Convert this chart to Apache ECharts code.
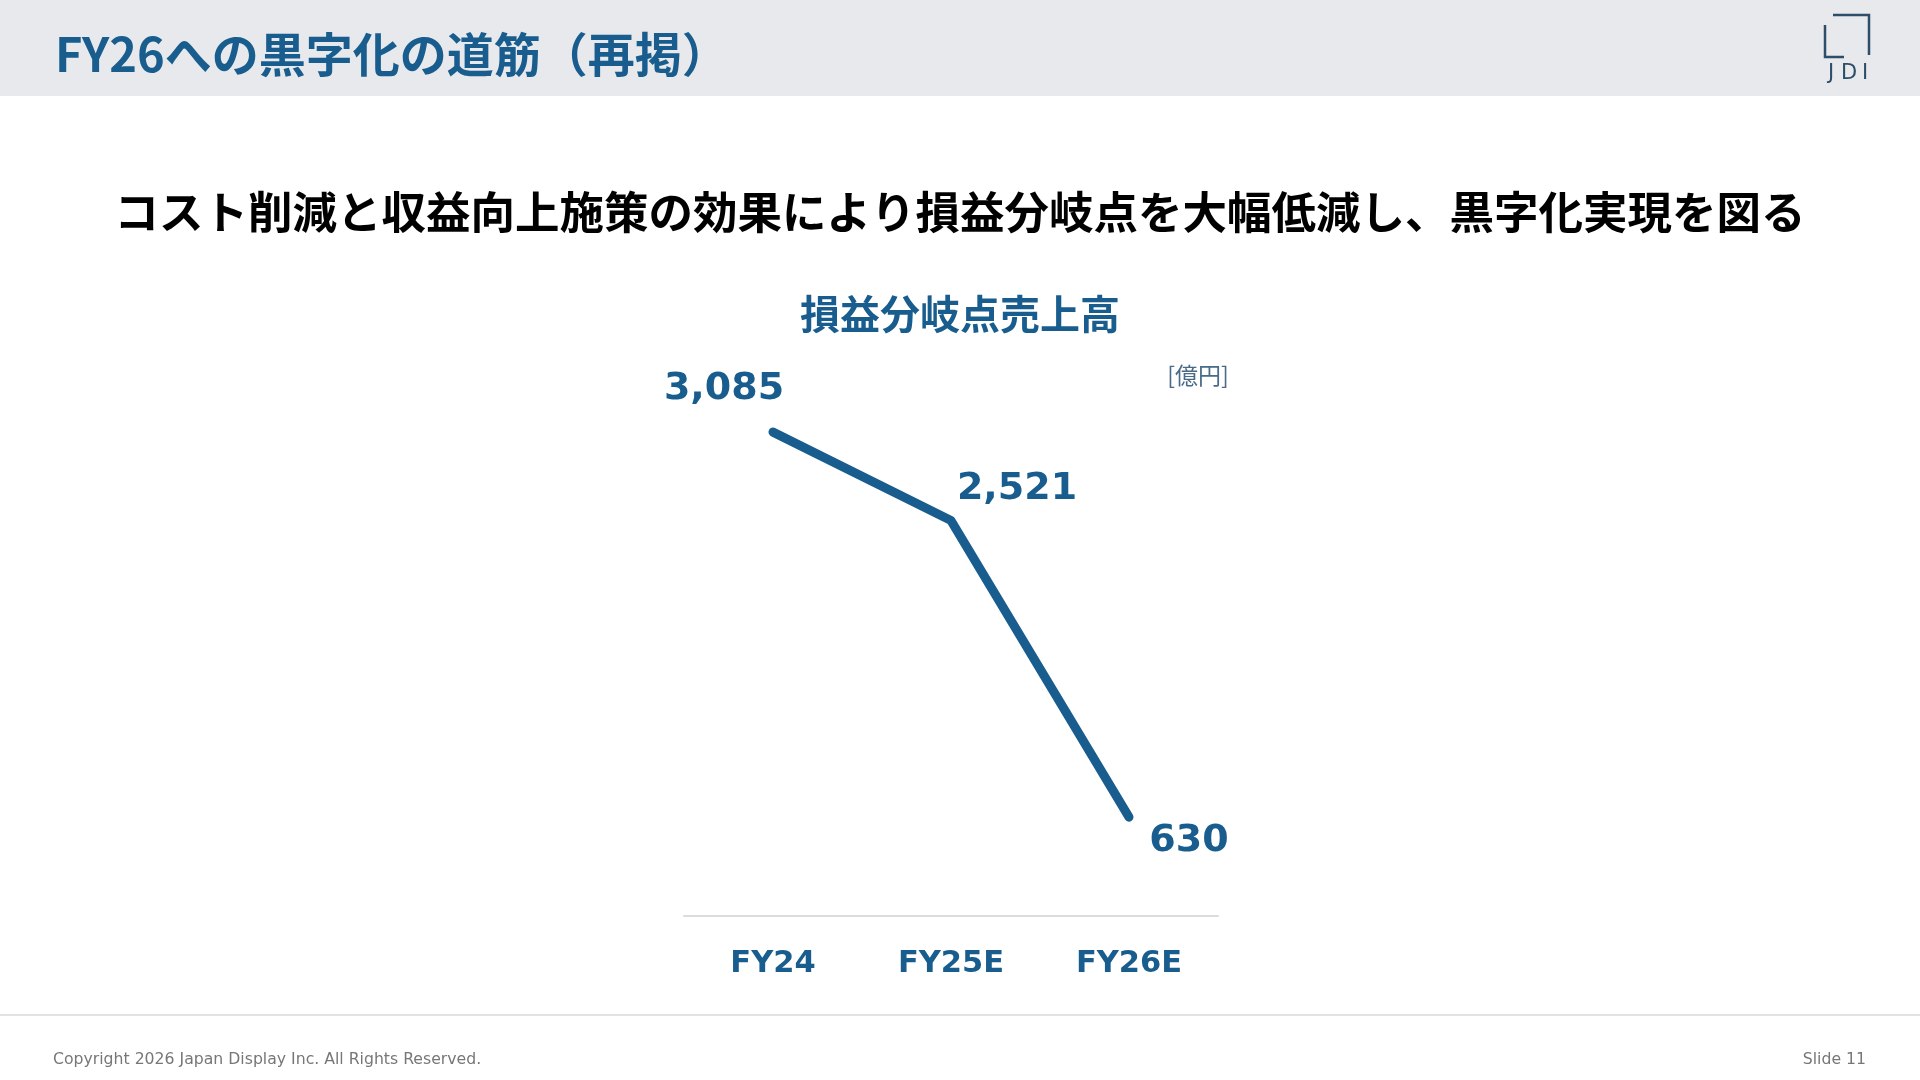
<!DOCTYPE html>
<html lang="ja">
<head>
<meta charset="UTF-8" />
<title>損益分岐点売上高</title>
<script src="https://cdn.jsdelivr.net/npm/echarts@6/dist/echarts.min.js"></script>
<style>
  html, body { margin: 0; padding: 0; background: #fff; }
</style>
</head>
<body>
<div id="main" style="width: 1920px; height: 1080px"></div>
<script type="text/javascript">
// data
const categories = ["FY24", "FY25E", "FY26E"];
const breakEvenSales = [3085, 2521, 630];   // 億円
const pageTitle = "FY26への黒字化の道筋（再掲）";
const message = "コスト削減と収益向上施策の効果により損益分岐点を大幅低減し、黒字化実現を図る";
const chartTitle = "損益分岐点売上高";
const unitLabel = "[億円]";

const blue = "#185d8e";
const logoColor = "#2e4d69";
const jp = '"Noto Sans CJK JP", sans-serif';
const num = '"DejaVu Sans", Verdana, sans-serif';

// where each value label sits relative to its point
const labelOffsets = [[-49, -43], [66, -31], [60, 24]];

let myChart = echarts.init(document.getElementById("main"));

let options = {
    backgroundColor: "#fff",
    animation: false,
    title: [
        {
            text: message,
            left: "center",
            top: 185,
            textStyle: { fontFamily: jp, fontSize: 44.5, fontWeight: "bold", color: "#000" }
        },
        {
            text: chartTitle,
            left: "center",
            top: 289,
            textStyle: { fontFamily: jp, fontSize: 40, fontWeight: "bold", color: blue }
        }
    ],
    grid: { left: 684, right: 702, top: 367, bottom: 164 },
    xAxis: {
        type: "category",
        data: categories,
        boundaryGap: true,
        axisLine: { lineStyle: { color: "#dcdcdc", width: 2 } },
        axisTick: { show: false },
        axisLabel: {
            margin: 33,
            fontFamily: num,
            fontSize: 30.5,
            fontWeight: "bold",
            color: blue
        }
    },
    yAxis: { type: "value", min: 0, max: 3500, show: false },
    series: [
        {
            type: "line",
            data: breakEvenSales.map((v, i) => ({
                value: v,
                label: { offset: labelOffsets[i] }
            })),
            symbol: "circle",
            symbolSize: 1,
            itemStyle: { color: blue },
            lineStyle: { color: blue, width: 9, cap: "round", join: "round" },
            label: {
                show: true,
                position: "inside",
                fontFamily: num,
                fontSize: 38,
                fontWeight: "bold",
                color: blue,
                formatter: (p) => p.value.toLocaleString("en-US")
            }
        }
    ],
    graphic: [
        // header band
        { type: "rect", shape: { x: 0, y: 0, width: 1920, height: 96 }, style: { fill: "#e7e9ec" }, z: 0 },
        {
            type: "text", left: 55, top: 31,
            style: { text: pageTitle, fontFamily: jp, fontSize: 47, fontWeight: "bold", fill: blue }
        },
        // JDI logo
        {
            type: "polyline", shape: { points: [[1825, 25], [1825, 57], [1844, 57]] },
            style: { stroke: logoColor, lineWidth: 2.5, fill: null }
        },
        {
            type: "polyline", shape: { points: [[1833, 15], [1869, 15], [1869, 55]] },
            style: { stroke: logoColor, lineWidth: 2.5, fill: null }
        },
        {
            type: "text", x: 1831, y: 74,
            style: { text: "J", fontFamily: num, fontSize: 21, fill: logoColor, align: "center", verticalAlign: "middle" }
        },
        {
            type: "text", x: 1849, y: 74,
            style: { text: "D", fontFamily: num, fontSize: 21, fill: logoColor, align: "center", verticalAlign: "middle" }
        },
        {
            type: "text", x: 1865, y: 74,
            style: { text: "I", fontFamily: num, fontSize: 21, fill: logoColor, align: "center", verticalAlign: "middle" }
        },
        // unit
        {
            type: "text", x: 1198, y: 375,
            style: { text: unitLabel, fontFamily: jp, fontSize: 23, fill: "#4a6a88", align: "center", verticalAlign: "middle" }
        },
        // footer
        { type: "rect", shape: { x: 0, y: 1014, width: 1920, height: 2 }, style: { fill: "#e2e2e2" } },
        {
            type: "text", x: 53, y: 1060,
            style: { text: "Copyright 2026 Japan Display Inc. All Rights Reserved.", fontFamily: num, fontSize: 15.7, fill: "#777", verticalAlign: "middle" }
        },
        {
            type: "text", x: 1866, y: 1060,
            style: { text: "Slide 11", fontFamily: num, fontSize: 15.7, fill: "#777", align: "right", verticalAlign: "middle" }
        }
    ]
};

myChart.setOption(options);
</script>
</body>
</html>
